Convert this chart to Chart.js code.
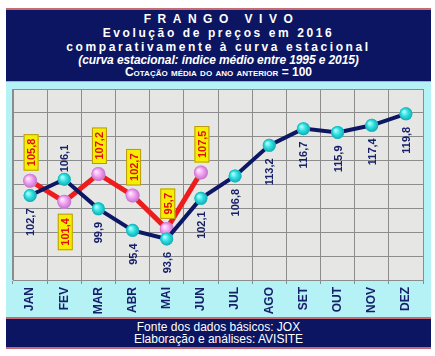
<!DOCTYPE html>
<html><head><meta charset="utf-8">
<script src="https://cdn.jsdelivr.net/npm/chart.js@4/dist/chart.umd.min.js"></script>
<style>
html,body{margin:0;padding:0;background:#fff;width:435px;height:356px;overflow:hidden;font-family:Arial,"Liberation Sans",sans-serif;}
#hdr{position:absolute;left:6px;top:8px;width:425px;height:71px;background:#0b1561;border-top:2px solid #c86a72;border-bottom:2px solid #d89aa0;}
.hl{position:absolute;left:0;width:100%;text-align:center;color:#fff;font-weight:bold;white-space:nowrap;}
#plotbox{position:absolute;left:6px;top:82px;width:425px;height:235px;background:#b4f2f6;}
#ftr{position:absolute;left:6px;top:317px;width:425px;height:28px;background:#0b1561;border-top:2px solid #c86a72;border-bottom:2px solid #c86a72;}
.fl{position:absolute;left:0;width:100%;text-align:center;color:#fff;font-size:12px;line-height:12px;white-space:nowrap;}
</style></head>
<body>
<div id="hdr">
  <div class="hl" style="top:2px;font-size:12px;line-height:14px;letter-spacing:6.5px;padding-left:6px;box-sizing:border-box;">FRANGO VIVO</div>
  <div class="hl" style="top:16px;font-size:12px;line-height:14px;letter-spacing:2.6px;">Evolução de preços em 2016</div>
  <div class="hl" style="top:30px;font-size:12px;line-height:14px;letter-spacing:2.6px;">comparativamente à curva estacional</div>
  <div class="hl" style="top:43px;font-size:12px;line-height:14px;font-style:italic;letter-spacing:-0.1px;">(curva estacional: índice médio entre 1995 e 2015)</div>
  <div class="hl" style="top:56px;font-size:12px;line-height:13px;font-variant:small-caps;">Cotação média do ano anterior = 100</div>
</div>
<div id="plotbox"><canvas id="c" width="425" height="235"></canvas></div>
<div id="ftr">
  <div class="fl" style="top:2px;">Fonte dos dados básicos: JOX</div>
  <div class="fl" style="top:14px;">Elaboração e análises: AVISITE</div>
</div>
<script>
const months = ['JAN','FEV','MAR','ABR','MAI','JUN','JUL','AGO','SET','OUT','NOV','DEZ'];
const precos2016 = [102.7,106.1,99.9,95.4,93.6,102.1,106.8,113.2,116.7,115.9,117.4,119.8];
const curvaEstacional = [105.8,101.4,107.2,102.7,95.7,107.5];
const precosLabelSide = ['below','above','below','below','below','below','below','below','below','below','below','below'];
const curvaLabelSide = ['above','below','above','above','above','above'];
const yTicks = [85,90,95,100,105,110,115,120,125];

const fmt = v => v.toFixed(1).replace('.', ',');
const FONT = 'Arial, "Liberation Sans", sans-serif';

const bgPlugin = {
  id:'bg',
  beforeDraw(chart){
    const {ctx, chartArea:a} = chart;
    ctx.save();
    ctx.fillStyle = '#e6e6e4';
    ctx.fillRect(a.left, a.top, a.right-a.left, a.bottom-a.top);
    ctx.restore();
  }
};

const pointShade = {
  id:'shade',
  afterDatasetDraw(chart, args){
    const ctx = chart.ctx;
    const meta = args.meta;
    const base = args.index === 0 ? ['#b0ffff','#2ee0e0','#16aab2'] : ['#ffeaff','#f2a2f0','#c272c8'];
    meta.data.forEach(p=>{
      const r = p.options.radius;
      const g = ctx.createRadialGradient(p.x - r*0.35, p.y - r*0.35, 0.5, p.x, p.y, r);
      g.addColorStop(0, base[0]);
      g.addColorStop(0.5, base[1]);
      g.addColorStop(1, base[2]);
      ctx.save();
      ctx.beginPath();
      ctx.arc(p.x, p.y, r, 0, Math.PI*2);
      ctx.fillStyle = g;
      ctx.fill();
      ctx.restore();
    });
  }
};

const labelPlugin = {
  id:'vlabels',
  afterDatasetsDraw(chart){
    const ctx = chart.ctx;
    ctx.save();
    ctx.font = 'bold 11px ' + FONT;
    ctx.textAlign = 'center';
    ctx.textBaseline = 'middle';
    const m0 = chart.getDatasetMeta(0);
    m0.data.forEach((p,i)=>{
      const t = fmt(precos2016[i]);
      const w = ctx.measureText(t).width;
      const cy = precosLabelSide[i] === 'above' ? p.y - 7 - w/2 : p.y + 13 + w/2;
      ctx.save();
      ctx.translate(p.x, cy);
      ctx.rotate(-Math.PI/2);
      ctx.fillStyle = '#17206a';
      ctx.fillText(t, 0, 1);
      ctx.restore();
    });
    const m1 = chart.getDatasetMeta(1);
    m1.data.forEach((p,i)=>{
      const t = fmt(curvaEstacional[i]);
      const w = ctx.measureText(t).width;
      const L = w + 9, T = 15;
      const cy = curvaLabelSide[i] === 'above' ? p.y - 10 - L/2 : p.y + 12 + L/2;
      ctx.save();
      ctx.translate(p.x + 1, cy);
      ctx.rotate(-Math.PI/2);
      ctx.fillStyle = '#f6ee00';
      ctx.fillRect(-L/2, -T/2, L, T);
      ctx.strokeStyle = '#b89a10';
      ctx.lineWidth = 1;
      ctx.strokeRect(-L/2+0.5, -T/2+0.5, L-1, T-1);
      ctx.fillStyle = '#e01010';
      ctx.fillText(t, 0, 1);
      ctx.restore();
    });
    ctx.restore();
  }
};

new Chart(document.getElementById('c'), {
  type:'line',
  data:{
    labels: months,
    datasets:[
      {label:'2016', data: precos2016, borderColor:'#0c1864', borderWidth:4,
       pointRadius:6.5, pointHoverRadius:6.5, pointBackgroundColor:'#2ee0e0', pointBorderWidth:0, tension:0},
      {label:'Curva estacional', data: curvaEstacional, borderColor:'#ee1c1c', borderWidth:5,
       pointRadius:7, pointHoverRadius:7, pointBackgroundColor:'#f2a2f0', pointBorderWidth:0, tension:0}
    ]
  },
  options:{
    responsive:false,
    animation:false,
    events:[],
    layout:{padding:{left:4,right:8,top:4,bottom:0}},
    plugins:{legend:{display:false}, tooltip:{enabled:false}, title:{display:false}},
    scales:{
      x:{
        type:'category', offset:true,
        grid:{display:true, offset:true, color:'#8c8c8c', lineWidth:1, tickLength:4, drawTicks:true},
        border:{display:true, color:'#8c8c8c'},
        ticks:{maxRotation:90, minRotation:90, autoSkip:false, padding:3, color:'#17206a', font:{family:FONT, size:12, weight:'bold'}},
        afterFit(s){ s.height = 37; }
      },
      y:{
        min:85, max:125,
        afterBuildTicks(s){ s.ticks = yTicks.map(v=>({value:v})); },
        grid:{color:'#8c8c8c', lineWidth:1, drawTicks:false},
        border:{display:true, color:'#8c8c8c'},
        ticks:{display:false},
        afterFit(s){ s.width = 0; }
      }
    }
  },
  plugins:[bgPlugin, pointShade, labelPlugin]
});
</script>
</body></html>
